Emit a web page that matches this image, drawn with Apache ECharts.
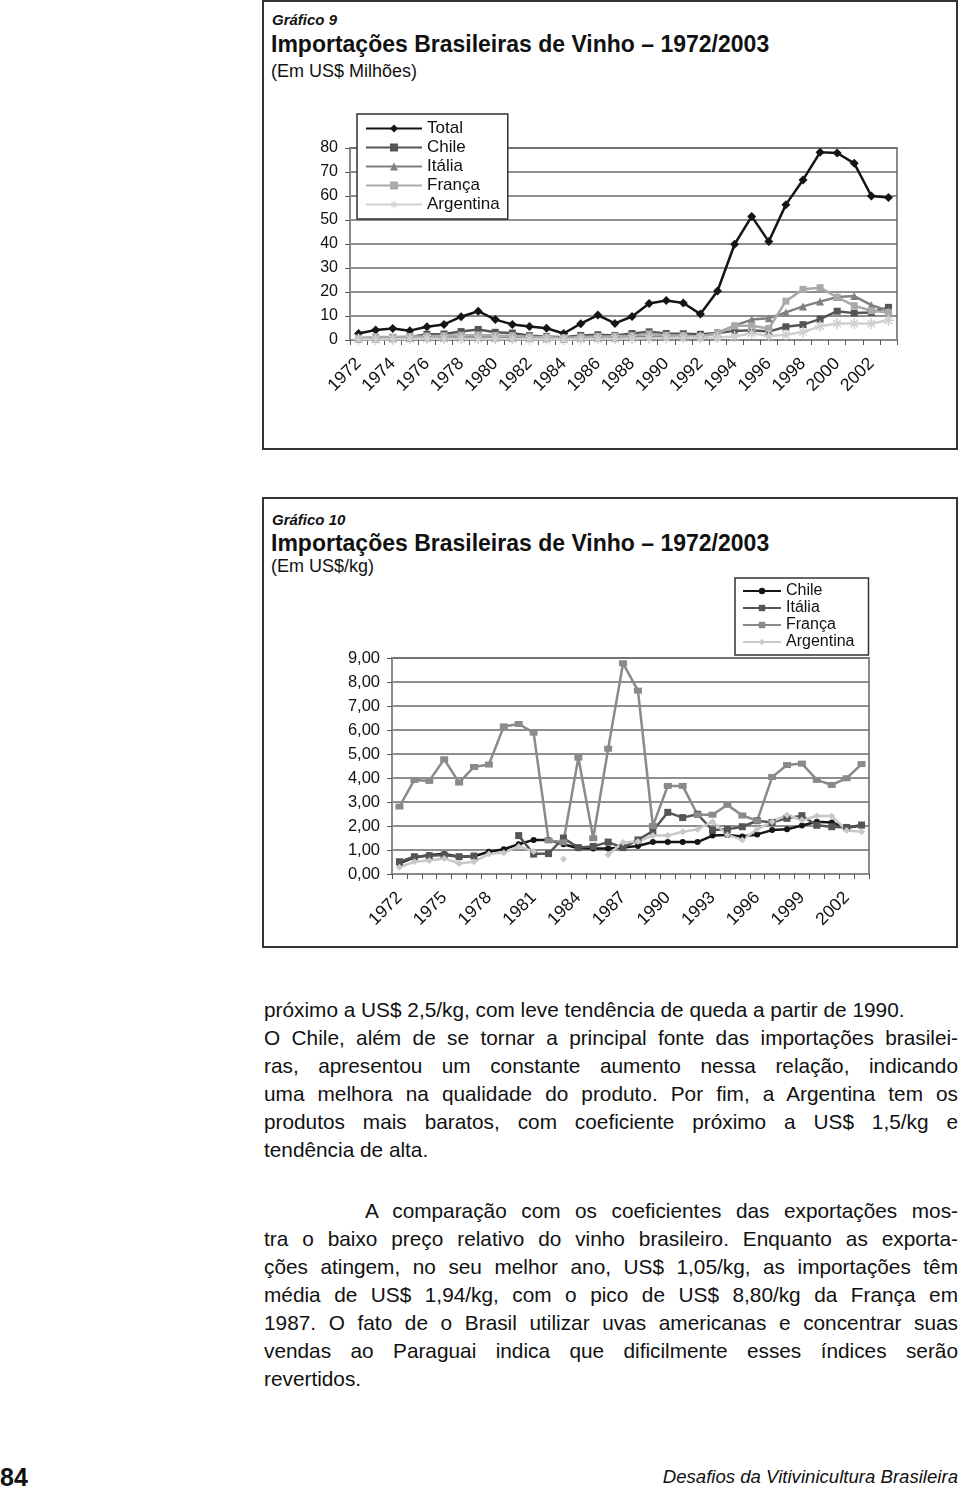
<!DOCTYPE html>
<html><head><meta charset="utf-8">
<script src="https://cdn.jsdelivr.net/npm/echarts@6/dist/echarts.min.js"></script>
<style>
body{margin:0;background:#fff;width:960px;height:1487px;position:relative;font-family:"Liberation Sans",Arial,Helvetica,sans-serif;color:#111;overflow:hidden}
.box{position:absolute;border:2px solid #333;box-sizing:border-box}
.ts{position:absolute;left:272px;font-style:italic;font-weight:bold;font-size:15px;line-height:18px;white-space:nowrap}
.tm{position:absolute;left:271px;font-weight:bold;font-size:23px;line-height:26px;white-space:nowrap}
.tu{position:absolute;left:271px;font-size:18px;line-height:22px;white-space:nowrap}
#c1{position:absolute;left:0;top:0;width:960px;height:450px}
#c2{position:absolute;left:0;top:490px;width:960px;height:460px}
.txt{position:absolute;left:264px;width:694px;font-size:20.8px;line-height:28px}
.j{text-align:justify;text-align-last:justify}
.l{text-align:left}
.foot{position:absolute;top:1464px;font-size:18.6px;line-height:26px}
</style></head>
<body>
<div class="box" style="left:262px;top:0px;width:696px;height:450px"></div>
<div class="box" style="left:262px;top:497px;width:696px;height:451px"></div>
<div class="ts" style="top:11px">Gráfico 9</div>
<div class="tm" style="top:31px">Importações Brasileiras de Vinho – 1972/2003</div>
<div class="tu" style="top:60px">(Em US$ Milhões)</div>
<div class="ts" style="top:511px">Gráfico 10</div>
<div class="tm" style="top:530px">Importações Brasileiras de Vinho – 1972/2003</div>
<div class="tu" style="top:555px">(Em US$/kg)</div>
<div id="c1"></div>
<div id="c2"></div>
<div class="txt" style="top:996px">
<div class="l">próximo a US$ 2,5/kg, com leve tendência de queda a partir de 1990.</div>
<div class="j">O Chile, além de se tornar a principal fonte das importações brasilei-</div>
<div class="j">ras, apresentou um constante aumento nessa relação, indicando</div>
<div class="j">uma melhora na qualidade do produto. Por fim, a Argentina tem os</div>
<div class="j">produtos mais baratos, com coeficiente próximo a US$ 1,5/kg e</div>
<div class="l">tendência de alta.</div>
</div>
<div class="txt" style="top:1197px">
<div class="j" style="padding-left:101px">A comparação com os coeficientes das exportações mos-</div>
<div class="j">tra o baixo preço relativo do vinho brasileiro. Enquanto as exporta-</div>
<div class="j">ções atingem, no seu melhor ano, US$ 1,05/kg, as importações têm</div>
<div class="j">média de US$ 1,94/kg, com o pico de US$ 8,80/kg da França em</div>
<div class="j">1987. O fato de o Brasil utilizar uvas americanas e concentrar suas</div>
<div class="j">vendas ao Paraguai indica que dificilmente esses índices serão</div>
<div class="l">revertidos.</div>
</div>
<div class="foot" style="left:0px;font-weight:bold;font-size:25px">84</div>
<div class="foot" style="right:2px;font-style:italic">Desafios da Vitivinicultura Brasileira</div>
<script>
// ---------- categories ----------
const years = ['1972','1973','1974','1975','1976','1977','1978','1979','1980','1981','1982','1983','1984','1985','1986','1987',
               '1988','1989','1990','1991','1992','1993','1994','1995','1996','1997','1998','1999','2000','2001','2002','2003'];

// ---------- Gráfico 9 (US$ milhões) ----------
const total9     = [2.7,4.2,4.8,3.9,5.5,6.5,9.7,12.0,8.5,6.5,5.6,4.9,2.7,6.8,10.4,6.9,9.8,15.2,16.5,15.4,10.8,20.4,39.9,51.5,41.0,56.4,66.7,78.2,77.9,73.6,60.0,59.4];
const chile9     = [0.6,0.9,1.0,1.3,2.4,2.5,3.5,4.4,3.2,2.9,1.8,1.5,1.1,1.9,2.2,1.9,2.7,3.4,2.7,2.6,2.4,2.9,3.8,4.1,3.5,5.5,6.4,8.7,12.0,11.2,11.5,13.6];
const italia9    = [0.5,0.6,0.7,0.8,1.0,1.0,1.2,1.3,1.0,0.9,0.8,0.7,0.5,0.8,1.0,0.9,1.2,1.5,1.4,1.3,1.2,3.0,6.0,8.5,9.1,11.5,14.0,16.0,17.9,18.3,14.5,12.2];
const franca9    = [0.8,1.3,1.2,1.5,1.6,1.8,2.0,2.1,1.9,1.8,1.3,1.2,0.8,1.3,1.5,1.6,1.8,2.6,2.0,1.8,1.5,2.7,5.9,5.9,4.8,16.2,21.1,21.8,17.8,14.3,12.2,11.5];
const argentina9 = [0.3,0.2,0.3,0.4,0.6,0.5,0.5,0.4,0.5,0.4,0.3,0.3,0.2,0.3,0.4,0.5,0.6,0.7,0.8,0.9,0.9,1.0,1.5,2.8,1.7,2.2,3.3,5.7,6.9,6.9,6.9,8.2];
const ticks9 = [0,10,20,30,40,50,60,70,80];

// ---------- Gráfico 10 (US$/kg) ----------
const chile10     = [0.44,0.69,0.79,0.83,0.72,0.74,0.93,1.03,1.24,1.42,1.42,1.24,1.07,1.06,1.06,1.10,1.17,1.33,1.33,1.33,1.33,1.60,1.63,1.56,1.65,1.83,1.86,2.02,2.18,2.15,1.93,2.02];
const italia10    = [0.51,0.72,0.76,0.79,0.72,0.75,null,null,1.60,0.83,0.85,1.50,1.10,1.15,1.33,1.10,1.42,1.79,2.57,2.35,2.49,1.83,1.86,1.97,2.22,2.15,2.32,2.43,2.03,1.97,1.94,2.04];
const franca10    = [2.81,3.92,3.88,4.78,3.81,4.46,4.56,6.15,6.25,5.89,1.40,1.32,4.85,1.49,5.22,8.78,7.64,2.00,3.67,3.67,2.47,2.47,2.88,2.44,2.22,4.04,4.54,4.60,3.92,3.71,3.99,4.58];
const argentina10 = [0.28,0.51,0.56,0.65,0.44,0.51,0.83,0.89,1.15,0.94,null,0.63,null,null,0.80,1.31,1.35,1.60,1.60,1.76,1.86,2.18,1.63,1.42,1.86,2.18,2.46,2.25,2.42,2.42,1.81,1.76];
const ticks10 = [0,1,2,3,4,5,6,7,8,9];

const asterisk = 'path://M-0.7,-5L0.7,-5L0.7,5L-0.7,5Z M-3.9,-3L-3,-3.9L3.9,3L3,3.9Z M3,-3.9L3.9,-3L-3,3.9L-3.9,3Z M-5,-0.7L5,-0.7L5,0.7L-5,0.7Z';
const FONT = 'Liberation Sans, Arial, sans-serif';

function ln(name, data, color, symbol, size, w){
  return {name, type:'line', data, symbol, symbolSize:size, showSymbol:true,
    lineStyle:{color, width:w}, itemStyle:{color, borderWidth:0}, emphasis:{disabled:true}};
}

const gridLine = {lineStyle:{color:'#6a6a6a', width:1.5}};
const axisGrey = {lineStyle:{color:'#8a8a8a', width:2}};

// Chart 1
const c1 = echarts.init(document.getElementById('c1'));
c1.setOption({
  animation:false,
  grid:{left:350, top:148, width:547, height:192, show:true, borderColor:'#8a8a8a', borderWidth:2},
  legend:{orient:'vertical', left:357, top:114, backgroundColor:'#fff', borderColor:'#333', borderWidth:1.5,
    padding:[6,8,6,8], itemGap:2, itemWidth:56, itemHeight:10,
    textStyle:{fontSize:17, color:'#111', fontFamily:FONT},
    data:['Total','Chile','Itália','França','Argentina'], z:10},
  xAxis:{type:'category', data:years, boundaryGap:true,
    axisLine:axisGrey, axisTick:{show:true, length:5, interval:0, lineStyle:{color:'#555'}},
    axisLabel:{interval:1, rotate:45, fontSize:17.5, color:'#111', margin:21, fontFamily:FONT}},
  yAxis:{type:'value', min:ticks9[0], max:ticks9[ticks9.length-1], interval:ticks9[1]-ticks9[0],
    axisLine:{show:true, lineStyle:{color:'#8a8a8a', width:2}}, axisTick:{show:true, length:5, lineStyle:{color:'#555'}},
    axisLabel:{fontSize:16, color:'#111', margin:12, fontFamily:FONT},
    splitLine:gridLine},
  series:[
    ln('Total', total9, '#151515', 'diamond', 9, 2.5),
    ln('Chile', chile9, '#555555', 'rect', 7, 2.5),
    ln('Itália', italia9, '#808080', 'triangle', 8, 2.5),
    ln('França', franca9, '#aaaaaa', 'rect', 7, 2.5),
    ln('Argentina', argentina9, '#cfcfcf', asterisk, 11, 2.5)
  ]
});

// Chart 2
const c2 = echarts.init(document.getElementById('c2'));
c2.setOption({
  animation:false,
  grid:{left:392, top:168, width:477, height:216, show:true, borderColor:'#8a8a8a', borderWidth:2},
  legend:{orient:'vertical', left:735, top:88, backgroundColor:'#fff', borderColor:'#333', borderWidth:1.5,
    padding:[5,14,5,7], itemGap:1, itemWidth:38, itemHeight:8,
    textStyle:{fontSize:16, color:'#111', fontFamily:FONT},
    data:['Chile','Itália','França','Argentina'], z:10},
  xAxis:{type:'category', data:years, boundaryGap:true,
    axisLine:axisGrey, axisTick:{show:true, length:5, interval:0, lineStyle:{color:'#555'}},
    axisLabel:{interval:2, rotate:45, fontSize:17.5, color:'#111', margin:21, fontFamily:FONT}},
  yAxis:{type:'value', min:ticks10[0], max:ticks10[ticks10.length-1], interval:ticks10[1]-ticks10[0],
    axisLine:{show:true, lineStyle:{color:'#8a8a8a', width:2}}, axisTick:{show:true, length:5, lineStyle:{color:'#555'}},
    axisLabel:{fontSize:16.5, color:'#111', margin:12, fontFamily:FONT,
      formatter:v=>v.toFixed(2).replace('.',',')},
    splitLine:gridLine},
  series:[
    ln('Chile', chile10, '#151515', 'circle', 6, 2.5),
    ln('Itália', italia10, '#555555', 'rect', 7, 2.5),
    ln('França', franca10, '#8a8a8a', 'rect', [8,6], 2.5),
    ln('Argentina', argentina10, '#c8c8c8', 'diamond', 7, 2.5)
  ]
});
</script>
</body></html>
